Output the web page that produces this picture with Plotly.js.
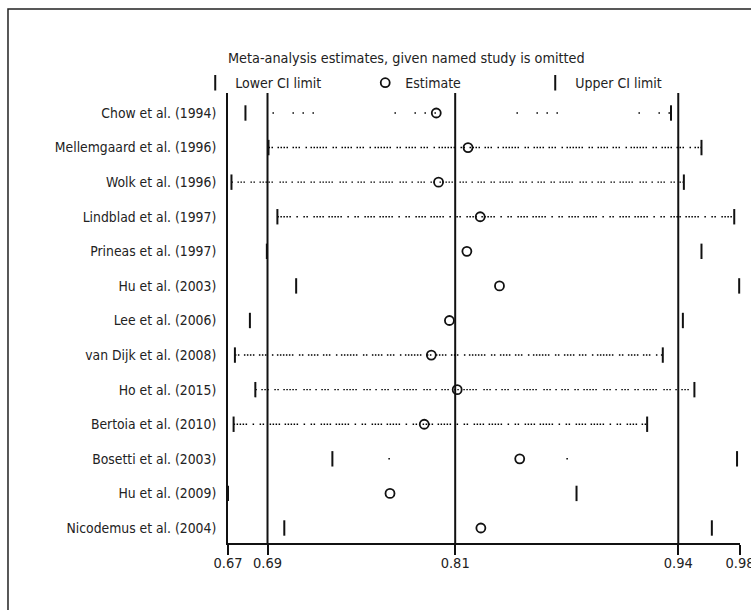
<!DOCTYPE html>
<html><head><meta charset="utf-8">
<script src="https://cdn.plot.ly/plotly-3.0.1.min.js"></script>
<style>html,body{margin:0;padding:0;background:#fff;} #chart{width:751px;height:610px;}</style>
</head><body><div id="chart"></div>
<script>
// ---- data ----
const studies = ["Chow et al. (1994)", "Mellemgaard et al. (1996)", "Wolk et al. (1996)", "Lindblad et al. (1997)",
  "Prineas et al. (1997)", "Hu et al. (2003)", "Lee et al. (2006)", "van Dijk et al. (2008)", "Ho et al. (2015)",
  "Bertoia et al. (2010)", "Bosetti et al. (2003)", "Hu et al. (2009)", "Nicodemus et al. (2004)"];
const lowerCI  = [0.6806, 0.6946, 0.6721, 0.7000, 0.6936, 0.7114, 0.6833, 0.6742, 0.6866, 0.6734, 0.7334, 0.6700, 0.7042];
const estimate = [0.7965, 0.8158, 0.7979, 0.8232, 0.8151, 0.8349, 0.8045, 0.7935, 0.8092, 0.7892, 0.8472, 0.7684, 0.8236];
const upperCI  = [0.9391, 0.9576, 0.9469, 0.9775, 0.9576, 0.9805, 0.9463, 0.9341, 0.9533, 0.9246, 0.9792, 0.8817, 0.9639];
const overallLower = 0.694;
const overallEstimate = 0.808;
const overallUpper = 0.9435;
const axisRange = [0.670, 0.981];
const tickVals = [0.670, 0.694, 0.808, 0.9435, 0.981];
const tickText = ["0.67", "0.69", "0.81", "0.94", "0.98"];

// ---- styles (dot textures of the connecting lines, one per row) ----
const dashA = "1.5px,1.5px,1.5px,4.5px,1.5px,1.5px,1.5px,1.5px,1.5px,1.5px,1.5px,4.5px,1.5px,1.5px,1.5px,1.5px,1.5px,5.5px,1.5px,3.5px,1.5px,1.5px,1.5px,1.5px,1.5px,1.5px,1.5px,1.5px,1.5px,1.5px,1.5px,5.5px";
const dashB = "1.5px,4.5px,1.5px,1.5px,1.5px,1.5px,1.5px,5.5px,1.5px,1.5px,1.5px,4.5px,1.5px,1.5px,1.5px,1.5px,1.5px,1.5px,1.5px,1.5px,1.5px,6.5px,1.5px,1.5px,1.5px,1.5px,1.5px,4.5px";
const dashC = "1.5px,1.5px,1.5px,1.5px,1.5px,1.5px,1.5px,1.5px,1.5px,5.5px,1.5px,5.5px,1.5px,1.5px,1.5px,5.5px,1.5px,1.5px,1.5px,1.5px,1.5px,1.5px,1.5px,4.5px";
const dashSparse1 = "0px,27px,1.5px,18.5px,1.5px,8.5px,1.5px,8.5px,1.5px,53.5px";
const dashSparse2 = "0px,56px,1.5px,120.5px";
const rowDash = [dashSparse1, dashA, dashB, dashC, null, null, null, dashA, dashB, dashC, dashSparse2, null, null];

const FONT = "'Liberation Sans Narrow', 'DejaVu Sans Condensed', 'Arial Narrow', sans-serif";
const INK = "#111";
const TXT = "#222";

const traces = [];
studies.forEach((s, i) => {
  if (!rowDash[i]) return;
  traces.push({
    type: "scatter", mode: "lines", x: [lowerCI[i], upperCI[i]], y: [s, s],
    line: {color: "#000", width: 1.4, dash: rowDash[i]},
    showlegend: false, hoverinfo: "skip", cliponaxis: false
  });
});
traces.push({
  type: "scatter", mode: "markers", name: "Lower CI limit", x: lowerCI, y: studies,
  marker: {symbol: "line-ns", size: 11, color: INK, line: {color: INK, width: 2}}, cliponaxis: false
});
traces.push({
  type: "scatter", mode: "markers", name: "Estimate", x: estimate, y: studies,
  marker: {symbol: "circle-open", size: 9, color: INK, line: {color: INK, width: 1.8}}, cliponaxis: false
});
traces.push({
  type: "scatter", mode: "markers", name: "Upper CI limit", x: upperCI, y: studies,
  marker: {symbol: "line-ns", size: 11, color: INK, line: {color: INK, width: 2}}, cliponaxis: false
});

const vline = v => ({type: "line", xref: "x", yref: "paper", x0: v, x1: v, y0: 0, y1: 1,
  line: {color: INK, width: 2}, layer: "below"});

const layout = {
  width: 751, height: 610,
  margin: {l: 228, r: 11, t: 93, b: 67},
  paper_bgcolor: "#fff", plot_bgcolor: "#fff",
  font: {family: FONT, size: 14, color: TXT},
  title: {text: "Meta-analysis estimates, given named study is omitted",
    font: {family: FONT, size: 14.3, color: TXT},
    xref: "paper", x: 0, xanchor: "left", yref: "container", y: 0.905, yanchor: "middle"},
  showlegend: true,
  legend: {orientation: "h", x: -0.064, xanchor: "left", y: 1.022, yanchor: "middle",
    entrywidth: 125, entrywidthmode: "pixels", bgcolor: "rgba(0,0,0,0)",
    font: {family: FONT, size: 14, color: TXT}, itemclick: false, itemdoubleclick: false},
  xaxis: {range: axisRange, tickvals: tickVals, ticktext: tickText, ticks: "outside", ticklen: 10,
    tickwidth: 2, tickcolor: INK, showline: true, linewidth: 2, linecolor: INK,
    showgrid: false, zeroline: false, ticklabeloverflow: "allow", ticklabelstandoff: -4,
    tickfont: {family: FONT, size: 14.5, color: TXT}},
  yaxis: {type: "category", categoryarray: studies, categoryorder: "array", range: [12.434, -0.578],
    showline: true, linewidth: 2, linecolor: INK, ticks: "", showgrid: false, zeroline: false,
    ticklabelstandoff: 7, tickfont: {family: FONT, size: 13.8, color: TXT}},
  shapes: [
    vline(overallLower), vline(overallEstimate), vline(overallUpper),
    {type: "rect", xref: "paper", yref: "paper", x0: -0.4297, x1: 1.05, y0: -0.2, y1: 1.1867,
      line: {color: "#222", width: 1.5}, fillcolor: "rgba(0,0,0,0)"}
  ]
};

Plotly.newPlot("chart", traces, layout, {staticPlot: true, displayModeBar: false});
</script>
</body></html>
